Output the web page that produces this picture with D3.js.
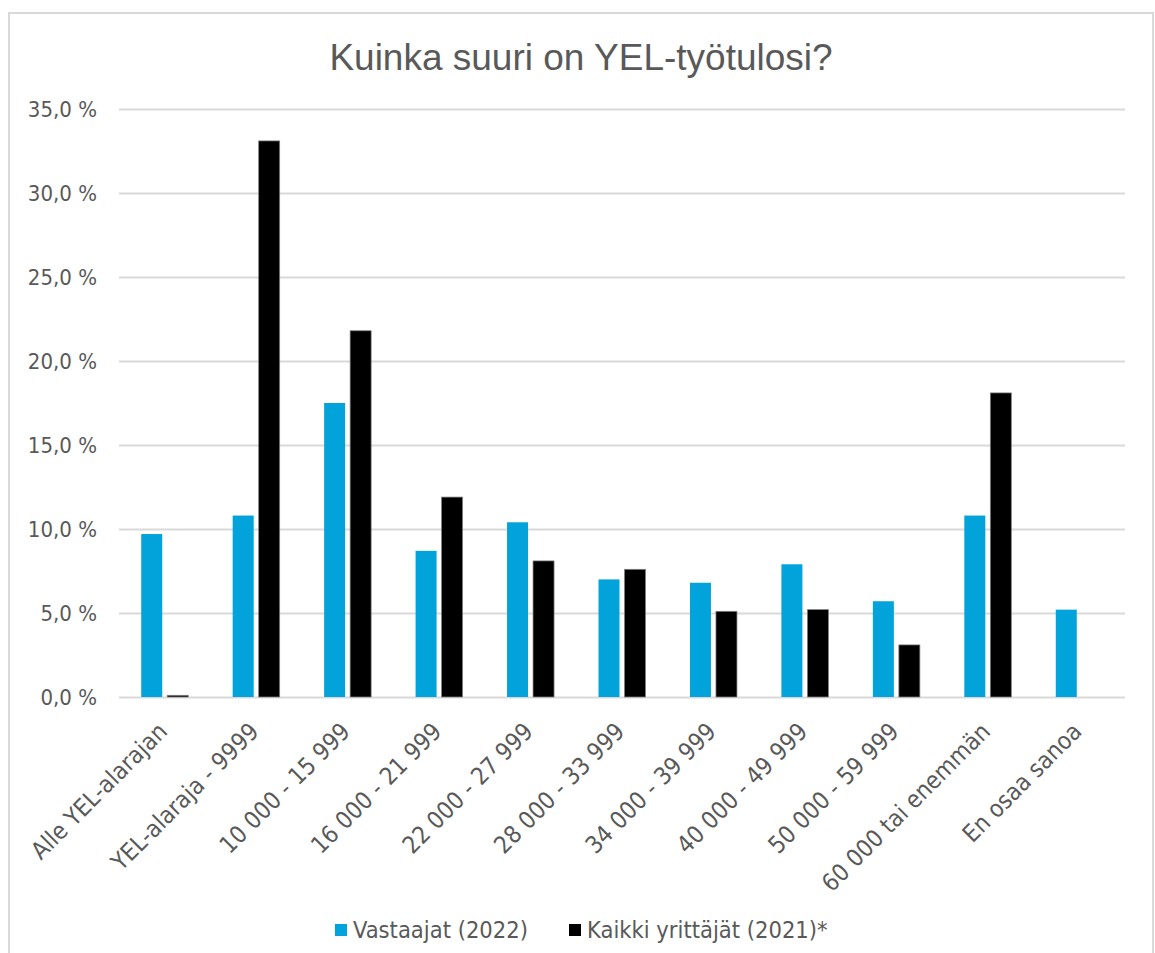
<!DOCTYPE html>
<html>
<head>
<meta charset="utf-8">
<script src="https://cdn.jsdelivr.net/npm/d3@7"></script>
<style>
  body { margin: 0; background: #fff; }
</style>
</head>
<body>
<div id="chart"></div>
<script>
// YEL-työtulo survey: respondents vs all entrepreneurs

const categories = [
  "Alle YEL-alarajan", "YEL-alaraja - 9999", "10 000 - 15 999", "16 000 - 21 999",
  "22 000 - 27 999", "28 000 - 33 999", "34 000 - 39 999", "40 000 - 49 999",
  "50 000 - 59 999", "60 000 tai enemmän", "En osaa sanoa"
];
const seriesNames = ["Vastaajat (2022)", "Kaikki yrittäjät (2021)*"];
const vastaajat = [9.7, 10.8, 17.5, 8.7, 10.4, 7.0, 6.8, 7.9, 5.7, 10.8, 5.2];
const kaikki = [0.1, 33.1, 21.8, 11.9, 8.1, 7.6, 5.1, 5.2, 3.1, 18.1, null];
const yTicks = [0, 5, 10, 15, 20, 25, 30, 35];

const colorBlue = "#02a3da";
const colorBlack = "#000000";
const colorText = "#595959";
const colorGrid = "#d9d9d9";
const labelFont = "'DejaVu Sans Condensed', 'DejaVu Sans', sans-serif";

const width = 1155, height = 953;
const marginLeft = 119, plotRight = 1125, plotTop = 109, plotBottom = 697;

const svg = d3.select("#chart")
  .append("svg")
  .attr("width", width)
  .attr("height", height);

// Outer frame
svg.append("rect")
  .attr("x", 9).attr("y", 13)
  .attr("width", 1144).attr("height", 960)
  .attr("fill", "#fff")
  .attr("stroke", colorGrid)
  .attr("stroke-width", 2);

// Title
svg.append("text")
  .attr("x", 581)
  .attr("y", 70)
  .attr("text-anchor", "middle")
  .attr("font-family", "'Liberation Sans', Arial, sans-serif")
  .attr("font-size", "37px")
  .attr("fill", colorText)
  .text("Kuinka suuri on YEL-työtulosi?");

// Scales
const x = d3.scaleBand()
  .domain(categories)
  .range([marginLeft, plotRight]);

const bw = x.bandwidth();
const x1 = d3.scaleBand()
  .domain(seriesNames)
  .range([bw / 2 - 23.5, bw / 2 + 23.5])
  .paddingInner(5 / 26);

const y = d3.scaleLinear()
  .domain([0, 35])
  .range([plotBottom, plotTop]);

// Grid + y axis labels
svg.append("g")
  .call(d3.axisLeft(y).tickValues(yTicks)
    .tickSize(-(plotRight - marginLeft))
    .tickPadding(22)
    .tickFormat(d => d3.format(".1f")(d).replace(".", ",") + " %"))
  .attr("transform", `translate(${marginLeft},0)`)
  .call(g => g.select(".domain").remove())
  .call(g => g.selectAll(".tick line").attr("stroke", colorGrid).attr("stroke-width", 2))
  .call(g => g.selectAll(".tick text")
    .attr("fill", colorText)
    .attr("font-family", labelFont)
    .attr("font-size", "22px"));

// Bars
const rows = categories.map((c, i) => ({ cat: c, values: [vastaajat[i], kaikki[i]] }));

svg.append("g")
  .selectAll("g")
  .data(rows)
  .join("g")
    .attr("transform", d => `translate(${x(d.cat)},0)`)
  .selectAll("rect")
  .data(d => d.values.map((v, j) => ({ key: seriesNames[j], value: v, j })).filter(d => d.value != null))
  .join("rect")
    .attr("x", d => x1(d.key))
    .attr("y", d => y(d.value))
    .attr("width", x1.bandwidth())
    .attr("height", d => y(0) - y(d.value))
    .attr("fill", d => d.j === 0 ? colorBlue : colorBlack)
    .attr("stroke", d => d.j === 0 ? "none" : "#7f7f7f")
    .attr("stroke-width", 0.75);

// X axis labels (rotated)
svg.append("g")
  .selectAll("text")
  .data(categories)
  .join("text")
    .attr("transform", d => `translate(${x(d) + bw / 2 - 2},727) rotate(-45)`)
    .attr("text-anchor", "end")
    .attr("dy", "0.35em")
    .attr("font-family", labelFont)
    .attr("font-size", "24px")
    .attr("fill", colorText)
    .text(d => d);

// Legend
const legendX = [335, 569];
const legend = svg.append("g")
  .selectAll("g")
  .data(seriesNames)
  .join("g")
    .attr("transform", (d, i) => `translate(${legendX[i]},924)`);

legend.append("rect")
  .attr("width", 12).attr("height", 12)
  .attr("fill", (d, i) => i === 0 ? colorBlue : colorBlack);

legend.append("text")
  .attr("x", 18)
  .attr("y", 14)
  .attr("font-family", labelFont)
  .attr("font-size", "23.5px")
  .attr("fill", colorText)
  .text(d => d);
</script>
</body>
</html>
